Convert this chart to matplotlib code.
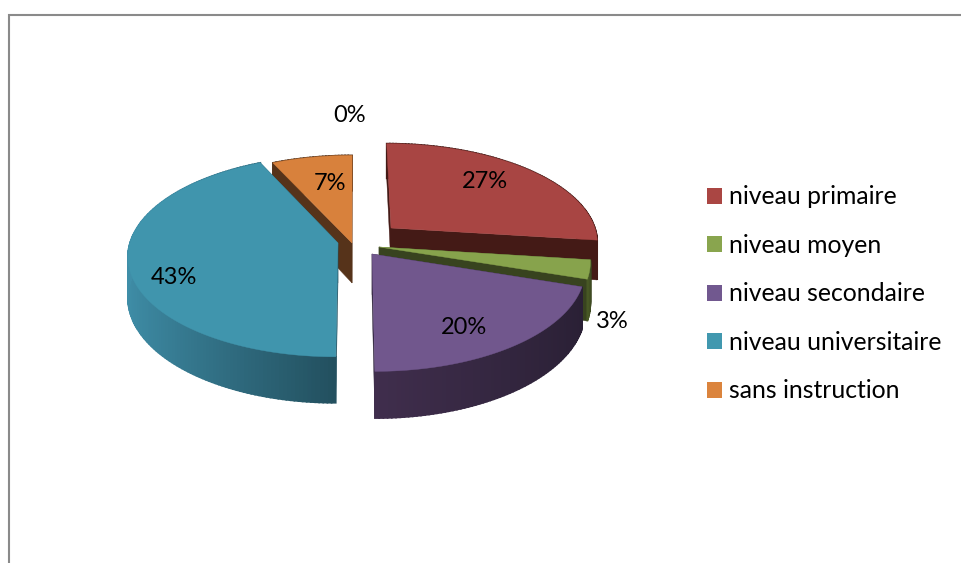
import matplotlib
matplotlib.use('Agg')
import matplotlib.pyplot as plt
import numpy as np
from matplotlib.colors import to_rgb
from matplotlib.patches import Patch

plt.rcParams['font.family'] = ['Lato', 'DejaVu Sans']

# Data
categories = ['niveau primaire', 'niveau moyen', 'niveau secondaire',
              'niveau universitaire', 'sans instruction']
values = [27, 3, 20, 43, 7]
zero_value = 0

# Colors
top_colors = ['#a84543', '#87a34c', '#71578d', '#4095ad', '#d8813c']
legend_colors = ['#aa4643', '#89a54e', '#71588f', '#4198af', '#db843d']
cut_colors = ['#441a16', '#38431f', '#2c2139', '#24505f', '#56331a']
rim_left = ['#441a16', '#4a5a26', '#402e4d', '#3f8ea8', '#56331a']
rim_right = ['#441a16', '#38431f', '#2a2035', '#23505f', '#56331a']

# Projection of the tilted pie, in pixels of the 962x563 picture
X0, Y0 = 353, 243
RX, RY = 208, 99
K = 0.13
DEPTH = 40
# where each slice's tip ends up after the explosion
tips = [(391, 228), (379, 247), (372, 254), (338, 243), (352, 243)]
# drawn back to front
order = [4, 0, 1, 2, 3]


def unproject(px, py):
  v = (Y0 - py) / RY
  y = v / (1 - K * v)
  return (px - X0) * (1 + K * y) / RX, y


def project(x, y, drop=False):
  d = 1 + K * y
  px = X0 + RX * x / d
  py = Y0 - RY * y / d
  if drop:
    py = py + DEPTH / d
  return px, py


fig = plt.figure(figsize=(9.62, 5.63), dpi=100)
ax = fig.add_axes([0, 0, 1, 1])
ax.set_xlim(0, 962)
ax.set_ylim(563, 0)
ax.axis('off')

# Chart frame, only the top and left edges are in the crop
ax.plot([9.5, 9.5, 962], [563, 15, 15], color='#8a8a8a', linewidth=1.5,
        solid_joinstyle='miter')

shares = np.array(values) / sum(values) * 360
ends = np.cumsum(shares)
starts = ends - shares

for i in order:
  z = 2 + order.index(i)
  tx, ty = unproject(*tips[i])
  angles = np.radians(np.arange(starts[i], ends[i] + 0.5, 1.0))
  angles[-1] = np.radians(ends[i])
  rx = tx + np.sin(angles)
  ry = ty + np.cos(angles)

  # cut faces
  for k in (0, -1):
    a = project(tx, ty)
    b = project(rx[k], ry[k])
    c = project(rx[k], ry[k], drop=True)
    e = project(tx, ty, drop=True)
    ax.fill(*zip(a, b, c, e), color=cut_colors[i], linewidth=0.3, zorder=z)

  # outer rim, shaded from left to right across the slice
  left = np.array(to_rgb(rim_left[i]))
  right = np.array(to_rgb(rim_right[i]))
  u = np.sin(angles)
  for j in range(len(angles) - 1):
    p1 = project(rx[j], ry[j])
    p2 = project(rx[j + 1], ry[j + 1])
    p3 = project(rx[j + 1], ry[j + 1], drop=True)
    p4 = project(rx[j], ry[j], drop=True)
    f = (u[j] - u.min()) / (u.max() - u.min())
    ax.fill(*zip(p1, p2, p3, p4), color=left + (right - left) * f,
            linewidth=1.2, zorder=z)

  # top face
  outline = [project(tx, ty)] + [project(a, b) for a, b in zip(rx, ry)]
  ax.fill(*zip(*outline), color=top_colors[i], linewidth=0.3, zorder=z)

# Data labels
label_pos = [(485, 181), (612, 321), (464, 327), (174, 277), (330, 183)]
for v, (lx, ly) in zip(values, label_pos):
  ax.text(lx, ly, f'{v}%', ha='center', va='center', fontsize=17,
          color='black', zorder=10)
ax.text(350, 115, f'{zero_value}%', ha='center', va='center', fontsize=17,
        color='black', zorder=10)

# Legend
handles = [Patch(facecolor=c, edgecolor='none') for c in legend_colors]
ax.legend(handles, categories, loc='upper left', frameon=False,
          bbox_to_anchor=(707, 185.5), bbox_transform=ax.transData,
          fontsize=17.8, handlelength=0.61, handleheight=0.61,
          handletextpad=0.28, labelspacing=1.03, borderpad=0, borderaxespad=0)

plt.savefig('out.png', dpi=100)
